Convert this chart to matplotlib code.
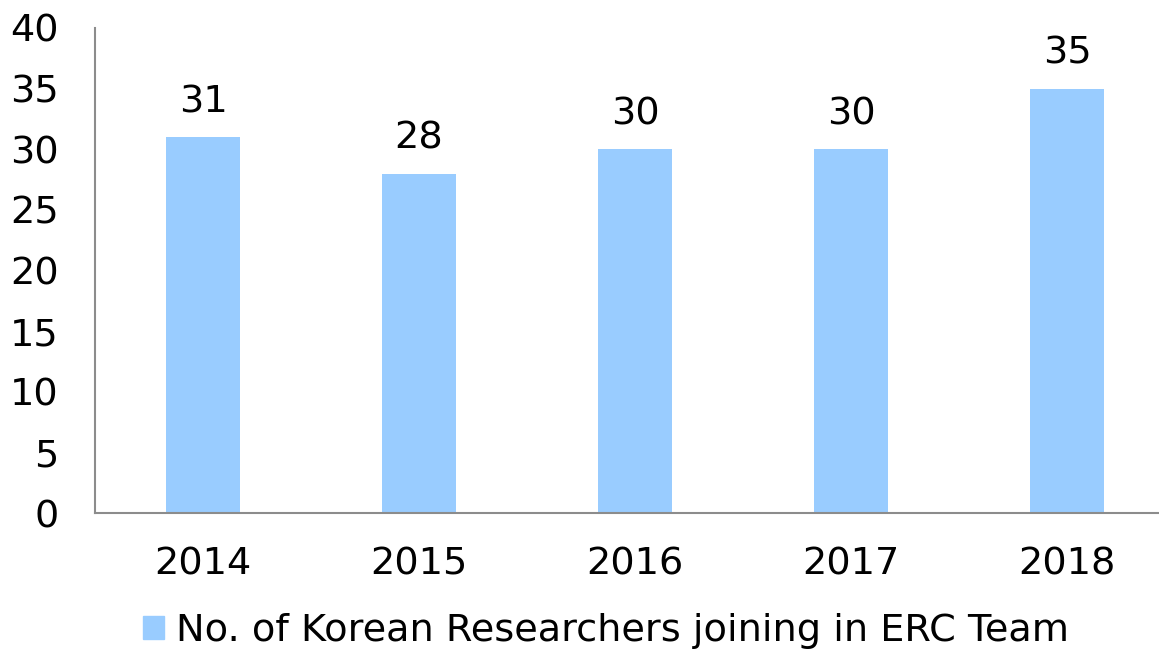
import matplotlib
matplotlib.use("Agg")
import matplotlib.pyplot as plt
from matplotlib.patches import Patch

categories = ["2014", "2015", "2016", "2017", "2018"]
values = [31, 28, 30, 30, 35]
series_name = "No. of Korean Researchers joining in ERC Team"
yticks = [0, 5, 10, 15, 20, 25, 30, 35, 40]

plt.rcParams['font.family'] = ['DejaVu Sans']
W, H = 1159, 651
fig = plt.figure(figsize=(W/100, H/100), dpi=100)
left, right, top, bottom = 95, 1159, 28, 513
ax = fig.add_axes([left/W, 1 - bottom/H, (right-left)/W, (bottom-top)/H])

FS = 27.5
color = "#99CCFF"
x = list(range(len(categories)))
bars = ax.bar(x, values, width=0.347, color=color)
ax.set_xlim(-0.5, 4.426)
ax.set_ylim(0, 40)
ax.set_yticks(yticks)
ax.set_xticks(x)
ax.set_xticklabels(categories)
ax.tick_params(axis='both', length=0, labelsize=FS)
ax.tick_params(axis='y', pad=26)
ax.tick_params(axis='x', pad=24)
for s in ['top', 'right']:
    ax.spines[s].set_visible(False)
for s in ['left', 'bottom']:
    ax.spines[s].set_color('#8c8c8c')
    ax.spines[s].set_linewidth(1.5)

for xi, v in zip(x, values):
    ax.annotate(str(v), (xi, v), xytext=(0, 12), textcoords='offset points',
                ha='center', va='bottom', fontsize=FS)

fig.legend(handles=[Patch(color=color, label=series_name)], loc='center',
           bbox_to_anchor=(606/W, 1 - 631/H), frameon=False, fontsize=FS,
           handlelength=0.55, handleheight=0.55, handletextpad=0.3)

fig.savefig("out.png", dpi=100)
